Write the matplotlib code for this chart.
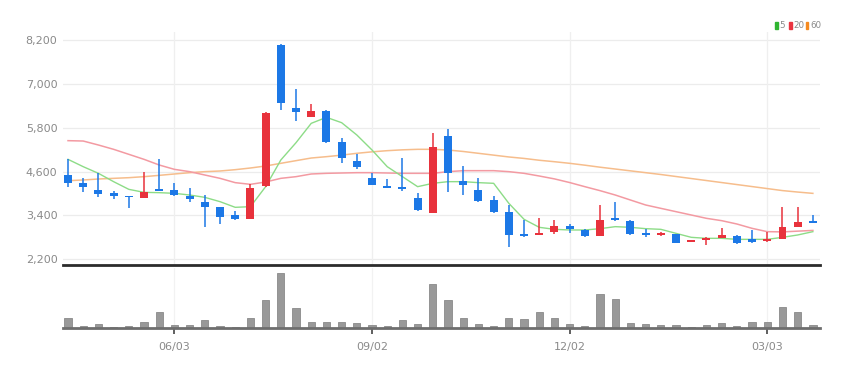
import matplotlib
matplotlib.use("Agg")
import matplotlib.pyplot as plt
from matplotlib.patches import Rectangle
from matplotlib import font_manager as fm

# ---------------- data (weekly candles) ----------------
opens = [4497, 4297, 4096, 4005, 3941, 3868, 4114, 4096, 3932, 3768,
         3640, 3403, 3312, 4215, 8054, 6349, 6102, 6267, 5418, 4889,
         4433, 4205, 4187, 3877, 3458, 5574, 4342, 4105, 3813, 3503,
         2883, 2865, 2956, 3111, 3002, 2837, 3339, 3248, 2929, 2856,
         2892, 2673, 2728, 2792, 2837, 2746, 2701, 2746, 3075, 3239]
closes = [4297, 4187, 3987, 3932, 3895, 4050, 4068, 3968, 3850, 3622,
          3366, 3303, 4160, 6194, 6467, 6221, 6248, 5418, 4962, 4716,
          4242, 4142, 4114, 3549, 5282, 4552, 4224, 3804, 3503, 2865,
          2837, 2929, 3111, 3020, 2846, 3275, 3275, 2883, 2856, 2910,
          2655, 2728, 2774, 2865, 2655, 2673, 2746, 3075, 3220, 3184]
highs = [4935, 4433, 4570, 4078, 3941, 4598, 4935, 4297, 4151, 3968,
         3640, 3521, 4251, 6220, 8080, 6850, 6449, 6290, 5510, 5072,
         4552, 4388, 4962, 4023, 5665, 5765, 4753, 4433, 3941, 3695,
         3275, 3321, 3275, 3166, 3020, 3686, 3777, 3275, 3020, 2956,
         2892, 2740, 2801, 3047, 2856, 3002, 2956, 3622, 3640, 3412]
lows = [4169, 4032, 3914, 3841, 3594, 3868, 4068, 3941, 3768, 3075,
        3166, 3275, 3312, 4180, 6285, 5993, 6102, 5391, 4844, 4680,
        4224, 4142, 4078, 3531, 3458, 4050, 3959, 3777, 3476, 2546,
        2819, 2865, 2892, 2910, 2819, 2837, 3257, 2856, 2801, 2837,
        2637, 2660, 2591, 2792, 2618, 2655, 2673, 2746, 3075, 3184]
volumes = [30, 7, 13, 4, 7, 17, 48, 8, 9, 24,
           7, 4, 30, 83, 165, 60, 18, 18, 18, 15,
           9, 7, 24, 13, 133, 83, 29, 13, 5, 29,
           27, 49, 29, 12, 5, 103, 88, 14, 12, 9,
           9, 4, 8, 14, 7, 18, 18, 64, 49, 9]
ma5 = [4935, 4734, 4552, 4324, 4114, 4032, 4023, 4005, 3959, 3895,
       3777, 3622, 3640, 4187, 4917, 5391, 5920, 6084, 5938, 5601,
       5190, 4734, 4461, 4187, 4279, 4324, 4324, 4297, 4279, 3731,
       3294, 3075, 3020, 3002, 3002, 3038, 3093, 3075, 3038, 3020,
       2910, 2801, 2774, 2774, 2746, 2746, 2746, 2801, 2865, 2956]
ma20 = [5446, 5436, 5327, 5209, 5072, 4935, 4780, 4661, 4598, 4506,
        4415, 4297, 4251, 4315, 4415, 4461, 4534, 4552, 4561, 4570,
        4570, 4561, 4552, 4552, 4552, 4598, 4625, 4625, 4625, 4598,
        4552, 4479, 4400, 4300, 4187, 4078, 3959, 3822, 3686, 3594,
        3503, 3412, 3321, 3257, 3166, 3047, 2956, 2950, 2970, 2990]
ma60 = [4351, 4370, 4397, 4415, 4433, 4461, 4497, 4534, 4570, 4598,
        4616, 4652, 4698, 4753, 4826, 4899, 4971, 5008, 5050, 5100,
        5140, 5172, 5195, 5209, 5209, 5190, 5150, 5100, 5050, 5000,
        4960, 4910, 4870, 4826, 4775, 4720, 4670, 4620, 4570, 4520,
        4465, 4410, 4355, 4300, 4245, 4190, 4135, 4080, 4040, 4004]
tick_index = [7, 20, 33, 46]
tick_labels = ["06/03", "09/02", "12/02", "03/03"]
price_ticks = [2200, 3400, 4600, 5800, 7000, 8200]
legend_labels = ["5", "20", "60"]

# ---------------- style ----------------
UP = "#e8323c"
DOWN = "#1c78e6"
C5, C20, C60 = "#8ddc87", "#f39aa2", "#f6bd8c"
names = [f.name for f in fm.fontManager.ttflist]
FONT = "Liberation Sans Narrow" if "Liberation Sans Narrow" in names else "DejaVu Sans"
plt.rcParams["font.family"] = [FONT, "DejaVu Sans"]

W, H = 862, 369
fig = plt.figure(figsize=(W / 100, H / 100), dpi=100)
fig.patch.set_facecolor("white")

def fx(px):
    return px / W

def fy(py):
    return 1 - py / H

x_left, x_right = 63, 820
ax = fig.add_axes([fx(x_left), fy(265), fx(x_right - x_left), (265 - 32) / H])
axv = fig.add_axes([fx(x_left), fy(328), fx(x_right - x_left), (328 - 268) / H], sharex=ax)

n = len(opens)
xs = list(range(n))
xlim = (-0.33, 49.47)

# gridlines
for t in price_ticks:
    ax.axhline(t, color="#ececec", lw=0.9, zorder=0)
for i in tick_index:
    ax.axvline(i, color="#efefef", lw=0.9, zorder=0)

# moving averages
ax.plot(xs, ma60, color=C60, lw=1.1, zorder=2)
ax.plot(xs, ma20, color=C20, lw=1.1, zorder=2)
ax.plot(xs, ma5, color=C5, lw=1.0, zorder=2)

# candles
for i in xs:
    o, c, h, l = opens[i], closes[i], highs[i], lows[i]
    col = UP if c >= o else DOWN
    ax.vlines(i, l, h, color=col, lw=1.1, zorder=3)
    bot = min(o, c)
    hgt = max(abs(c - o), 45)
    ax.bar(i, hgt, bottom=bot, width=0.52, color=col, zorder=4, linewidth=0)

ax.set_xlim(*xlim)
ax.set_ylim(2044, 8419)
ax.set_yticks(price_ticks)
ax.set_yticklabels([f"{t:,}" for t in price_ticks])
ax.tick_params(axis="y", length=0, pad=4, labelsize=8, labelcolor="#8a8a8a")
ax.tick_params(axis="x", length=0, labelbottom=False)
for s in ["top", "right", "left"]:
    ax.spines[s].set_visible(False)
ax.spines["bottom"].set_color("#2b2b2b")
ax.spines["bottom"].set_linewidth(2)

# volume
axv.bar(xs, volumes, width=0.48, color="#999999", edgecolor="#8a8a8a",
        linewidth=0.6, zorder=2)
axv.set_ylim(0, 180)
axv.set_yticks([])
for i in tick_index:
    axv.axvline(i, color="#f2f2f2", lw=0.9, zorder=0)
for s in ["top", "right", "left"]:
    axv.spines[s].set_visible(False)
axv.spines["bottom"].set_color("#6e6e6e")
axv.spines["bottom"].set_linewidth(2)
axv.set_xticks(tick_index)
axv.set_xticklabels(tick_labels)
axv.tick_params(axis="x", length=4, width=1.2, color="#444444", pad=6,
                labelsize=8, labelcolor="#8a8a8a")

# legend (top right)
legend_cols = ["#2fb531", "#ea3440", "#f58a1f"]
rect_x = [775.5, 789.3, 806]
text_x = [779.5, 793, 810]
for rx, tx, col, lab in zip(rect_x, text_x, legend_cols, legend_labels):
    fig.patches.append(Rectangle((fx(rx), fy(29)), 2.5 / W, 6.5 / H,
                                 transform=fig.transFigure, color=col))
    fig.text(fx(tx), fy(25.7), lab, fontsize=6.3, color="#8a8a8a",
             va="center", ha="left")

fig.savefig("out.png", dpi=100)
